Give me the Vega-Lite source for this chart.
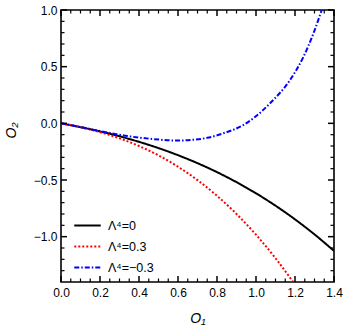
{
  "$schema": "https://vega.github.io/schema/vega-lite/v6.json",
  "width": 273,
  "height": 272,
  "autosize": "none",
  "padding": {"left": 61, "top": 10, "right": 12, "bottom": 45},
  "background": "white",
  "config": {
    "view": {"stroke": "black", "strokeWidth": 1.6},
    "font": "Liberation Sans"
  },
  "datasets": {
    "curves": [
      {"series": "Λ⁴=0", "x": 0, "y": 0},
      {"series": "Λ⁴=0", "x": 0.1, "y": -0.0335},
      {"series": "Λ⁴=0", "x": 0.2, "y": -0.0714},
      {"series": "Λ⁴=0", "x": 0.3, "y": -0.1143},
      {"series": "Λ⁴=0", "x": 0.4, "y": -0.1632},
      {"series": "Λ⁴=0", "x": 0.5, "y": -0.2185},
      {"series": "Λ⁴=0", "x": 0.6, "y": -0.2811},
      {"series": "Λ⁴=0", "x": 0.7, "y": -0.3515},
      {"series": "Λ⁴=0", "x": 0.8, "y": -0.4306},
      {"series": "Λ⁴=0", "x": 0.9, "y": -0.5191},
      {"series": "Λ⁴=0", "x": 1.0, "y": -0.6175},
      {"series": "Λ⁴=0", "x": 1.1, "y": -0.7267},
      {"series": "Λ⁴=0", "x": 1.2, "y": -0.8473},
      {"series": "Λ⁴=0", "x": 1.3, "y": -0.98},
      {"series": "Λ⁴=0", "x": 1.4, "y": -1.1257},
      {"series": "Λ⁴=0.3", "x": 0, "y": 0},
      {"series": "Λ⁴=0.3", "x": 0.1, "y": -0.0347},
      {"series": "Λ⁴=0.3", "x": 0.2, "y": -0.0779},
      {"series": "Λ⁴=0.3", "x": 0.3, "y": -0.1323},
      {"series": "Λ⁴=0.3", "x": 0.4, "y": -0.2001},
      {"series": "Λ⁴=0.3", "x": 0.5, "y": -0.283},
      {"series": "Λ⁴=0.3", "x": 0.6, "y": -0.3829},
      {"series": "Λ⁴=0.3", "x": 0.7, "y": -0.5011},
      {"series": "Λ⁴=0.3", "x": 0.8, "y": -0.6395},
      {"series": "Λ⁴=0.3", "x": 0.9, "y": -0.7996},
      {"series": "Λ⁴=0.3", "x": 1.0, "y": -0.9825},
      {"series": "Λ⁴=0.3", "x": 1.1, "y": -1.1899},
      {"series": "Λ⁴=0.3", "x": 1.2, "y": -1.4231},
      {"series": "Λ⁴=−0.3", "x": 0, "y": 0},
      {"series": "Λ⁴=−0.3", "x": 0.1, "y": -0.033},
      {"series": "Λ⁴=−0.3", "x": 0.2, "y": -0.068},
      {"series": "Λ⁴=−0.3", "x": 0.328, "y": -0.109},
      {"series": "Λ⁴=−0.3", "x": 0.45, "y": -0.135},
      {"series": "Λ⁴=−0.3", "x": 0.6, "y": -0.152},
      {"series": "Λ⁴=−0.3", "x": 0.68, "y": -0.145},
      {"series": "Λ⁴=−0.3", "x": 0.75, "y": -0.128},
      {"series": "Λ⁴=−0.3", "x": 0.832, "y": -0.088},
      {"series": "Λ⁴=−0.3", "x": 0.935, "y": -0.015},
      {"series": "Λ⁴=−0.3", "x": 0.986, "y": 0.044},
      {"series": "Λ⁴=−0.3", "x": 1.072, "y": 0.177},
      {"series": "Λ⁴=−0.3", "x": 1.174, "y": 0.381},
      {"series": "Λ⁴=−0.3", "x": 1.243, "y": 0.586},
      {"series": "Λ⁴=−0.3", "x": 1.294, "y": 0.791},
      {"series": "Λ⁴=−0.3", "x": 1.337, "y": 1.0},
      {"series": "Λ⁴=−0.3", "x": 1.37, "y": 1.17}
    ],
    "xmajor": [{"v": 0.0}, {"v": 0.2}, {"v": 0.4}, {"v": 0.6}, {"v": 0.8}, {"v": 1.0}, {"v": 1.2}, {"v": 1.4}],
    "xminor": [{"v": 0.05}, {"v": 0.1}, {"v": 0.15}, {"v": 0.25}, {"v": 0.3}, {"v": 0.35}, {"v": 0.45}, {"v": 0.5}, {"v": 0.55}, {"v": 0.65}, {"v": 0.7}, {"v": 0.75}, {"v": 0.85}, {"v": 0.9}, {"v": 0.95}, {"v": 1.05}, {"v": 1.1}, {"v": 1.15}, {"v": 1.25}, {"v": 1.3}, {"v": 1.35}],
    "ymajor": [{"v": -1.0}, {"v": -0.5}, {"v": 0.0}, {"v": 0.5}, {"v": 1.0}],
    "yminor": [{"v": -1.3}, {"v": -1.2}, {"v": -1.1}, {"v": -0.9}, {"v": -0.8}, {"v": -0.7}, {"v": -0.6}, {"v": -0.4}, {"v": -0.3}, {"v": -0.2}, {"v": -0.1}, {"v": 0.1}, {"v": 0.2}, {"v": 0.3}, {"v": 0.4}, {"v": 0.6}, {"v": 0.7}, {"v": 0.8}, {"v": 0.9}]
  },
  "resolve": {"axis": {"x": "independent", "y": "independent"}},
  "layer": [
    {
      "data": {"name": "curves"},
      "mark": {"type": "line", "clip": true, "strokeWidth": 2, "interpolate": "monotone"},
      "encoding": {
        "x": {"field": "x", "type": "quantitative", "scale": {"domain": [0, 1.4], "nice": false, "zero": false},
          "axis": {"orient": "bottom", "domain": false, "grid": false, "ticks": false, "tickSize": 0, "values": [0, 0.2, 0.4, 0.6, 0.8, 1.0, 1.2, 1.4], "format": ".1f", "labelFlush": false, "labelOverlap": false, "labelPadding": 5, "labelFontSize": 12, "labelColor": "black", "labelFont": "Liberation Sans", "title": "O₁", "titleColor": "black", "titleFont": "Liberation Sans", "titleFontSize": 14, "titleFontWeight": "normal", "titleFontStyle": "italic", "titleY": 36, "titleBaseline": "middle"}},
        "y": {"field": "y", "type": "quantitative", "scale": {"domain": [-1.4, 1.0], "nice": false, "zero": false},
          "axis": {"orient": "left", "domain": false, "grid": false, "ticks": false, "tickSize": 0, "values": [-1.0, -0.5, 0, 0.5, 1.0], "format": ".1f", "labelFlush": false, "labelOverlap": false, "labelPadding": 4, "labelFontSize": 12, "labelColor": "black", "labelFont": "Liberation Sans", "title": "O₂", "titleColor": "black", "titleFont": "Liberation Sans", "titleFontSize": 14, "titleFontWeight": "normal", "titleFontStyle": "italic", "titleX": -50, "titleY": 120, "titleBaseline": "middle"}},
        "color": {"field": "series", "type": "nominal", "sort": ["Λ⁴=0", "Λ⁴=0.3", "Λ⁴=−0.3"],
          "scale": {"domain": ["Λ⁴=0", "Λ⁴=0.3", "Λ⁴=−0.3"], "range": ["#000000", "#ff0000", "#0000ff"]},
          "legend": {"title": null, "orient": "none", "legendX": 12, "legendY": 201, "symbolType": "stroke", "symbolSize": 700, "symbolStrokeWidth": 2, "labelFontSize": 12.5, "labelFont": "Liberation Sans", "labelOffset": 6, "rowPadding": -5, "padding": 0, "labelColor": "black"}},
        "strokeDash": {"field": "series", "type": "nominal", "sort": ["Λ⁴=0", "Λ⁴=0.3", "Λ⁴=−0.3"],
          "scale": {"domain": ["Λ⁴=0", "Λ⁴=0.3", "Λ⁴=−0.3"], "range": [[1, 0], [2, 2], [5, 2, 1.5, 2]]},
          "legend": {"title": null, "orient": "none", "legendX": 12, "legendY": 201, "symbolType": "stroke", "symbolSize": 700, "symbolStrokeWidth": 2, "labelFontSize": 12.5, "labelFont": "Liberation Sans", "labelOffset": 6, "rowPadding": -5, "padding": 0, "labelColor": "black"}}
      }
    },
    {
      "data": {"name": "xmajor"},
      "mark": {"type": "tick", "orient": "vertical", "color": "black", "fill": "black", "opacity": 1, "fillOpacity": 1, "thickness": 1.5, "size": 6},
      "encoding": {"x": {"field": "v", "type": "quantitative", "axis": null}, "y": {"datum": -1.3735, "axis": null}}
    },
    {
      "data": {"name": "xminor"},
      "mark": {"type": "tick", "orient": "vertical", "color": "black", "fill": "black", "opacity": 1, "fillOpacity": 1, "thickness": 1.2, "size": 3.5},
      "encoding": {"x": {"field": "v", "type": "quantitative", "axis": null}, "y": {"datum": -1.3846, "axis": null}}
    },
    {
      "data": {"name": "xmajor"},
      "mark": {"type": "tick", "orient": "vertical", "color": "black", "fill": "black", "opacity": 1, "fillOpacity": 1, "thickness": 1.5, "size": 6},
      "encoding": {"x": {"field": "v", "type": "quantitative", "axis": null}, "y": {"datum": 0.9735, "axis": null}}
    },
    {
      "data": {"name": "xminor"},
      "mark": {"type": "tick", "orient": "vertical", "color": "black", "fill": "black", "opacity": 1, "fillOpacity": 1, "thickness": 1.2, "size": 3.5},
      "encoding": {"x": {"field": "v", "type": "quantitative", "axis": null}, "y": {"datum": 0.9846, "axis": null}}
    },
    {
      "data": {"name": "ymajor"},
      "mark": {"type": "tick", "orient": "horizontal", "color": "black", "fill": "black", "opacity": 1, "fillOpacity": 1, "thickness": 1.5, "size": 6},
      "encoding": {"y": {"field": "v", "type": "quantitative", "axis": null}, "x": {"datum": 0.0154, "axis": null}}
    },
    {
      "data": {"name": "yminor"},
      "mark": {"type": "tick", "orient": "horizontal", "color": "black", "fill": "black", "opacity": 1, "fillOpacity": 1, "thickness": 1.2, "size": 3.5},
      "encoding": {"y": {"field": "v", "type": "quantitative", "axis": null}, "x": {"datum": 0.009, "axis": null}}
    },
    {
      "data": {"name": "ymajor"},
      "mark": {"type": "tick", "orient": "horizontal", "color": "black", "fill": "black", "opacity": 1, "fillOpacity": 1, "thickness": 1.5, "size": 6},
      "encoding": {"y": {"field": "v", "type": "quantitative", "axis": null}, "x": {"datum": 1.3846, "axis": null}}
    },
    {
      "data": {"name": "yminor"},
      "mark": {"type": "tick", "orient": "horizontal", "color": "black", "fill": "black", "opacity": 1, "fillOpacity": 1, "thickness": 1.2, "size": 3.5},
      "encoding": {"y": {"field": "v", "type": "quantitative", "axis": null}, "x": {"datum": 1.391, "axis": null}}
    }
  ]
}
